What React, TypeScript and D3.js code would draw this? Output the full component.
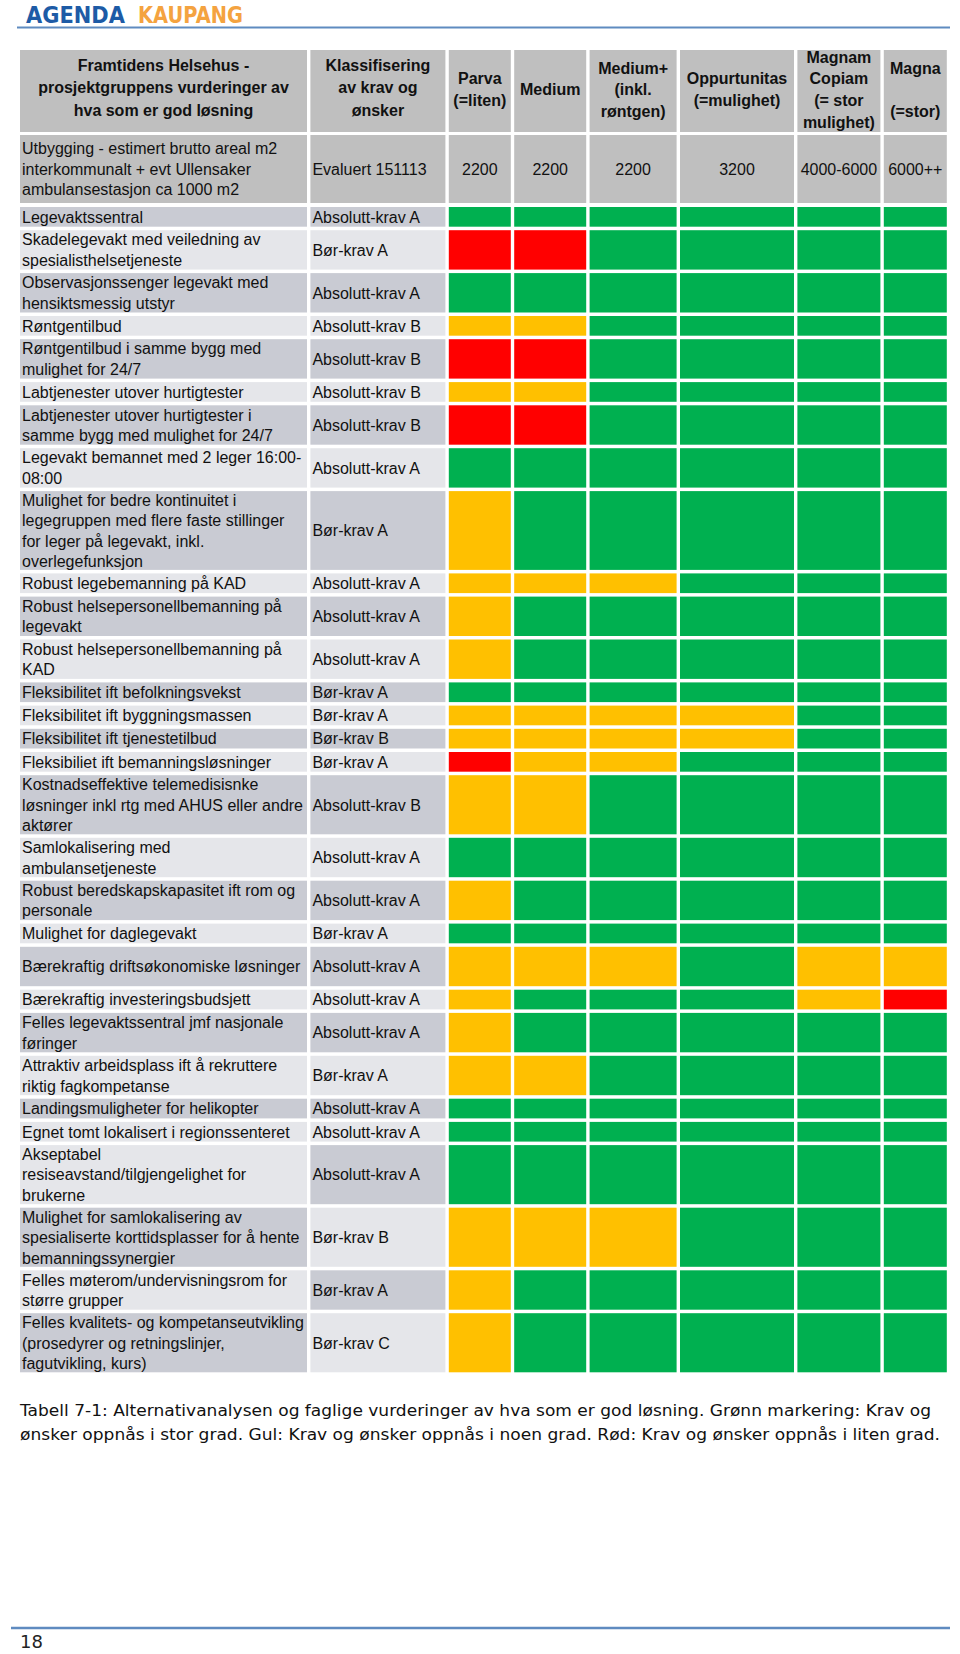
import React from "react";
import * as d3 from "d3";

// ---------- DATA ----------
const alternatives = ["Parva", "Medium", "Medium+", "Oppurtunitas", "Magnam Copiam", "Magna"];

const headerCriteria = ["Framtidens Helsehus -", "prosjektgruppens vurderinger av", "hva som er god løsning"];
const headerClass = ["Klassifisering", "av krav og", "ønsker"];
const headerAlternatives: string[][] = [
  ["Parva", "(=liten)"],
  ["Medium"],
  ["Medium+", "(inkl.", "røntgen)"],
  ["Oppurtunitas", "(=mulighet)"],
  ["Magnam", "Copiam", "(= stor", "mulighet)"],
  ["Magna", "", "(=stor)"],
];

const areaLabel = ["Utbygging - estimert brutto areal m2", "interkommunalt + evt Ullensaker", "ambulansestasjon ca 1000 m2"];
const areaClass = "Evaluert 151113";
const areaValues = ["2200", "2200", "2200", "3200", "4000-6000", "6000++"];

const criteria: string[][] = [
  ["Legevaktssentral"],
  ["Skadelegevakt med veiledning av", "spesialisthelsetjeneste"],
  ["Observasjonssenger legevakt med", "hensiktsmessig utstyr"],
  ["Røntgentilbud"],
  ["Røntgentilbud i samme bygg med", "mulighet for 24/7"],
  ["Labtjenester utover hurtigtester"],
  ["Labtjenester utover hurtigtester i", "samme bygg med mulighet for 24/7"],
  ["Legevakt bemannet med 2 leger 16:00-", "08:00"],
  ["Mulighet for bedre kontinuitet i", "legegruppen med flere faste stillinger", "for leger på legevakt, inkl.", "overlegefunksjon"],
  ["Robust legebemanning på KAD"],
  ["Robust helsepersonellbemanning på", "legevakt"],
  ["Robust helsepersonellbemanning på", "KAD"],
  ["Fleksibilitet ift befolkningsvekst"],
  ["Fleksibilitet ift byggningsmassen"],
  ["Fleksibilitet ift tjenestetilbud"],
  ["Fleksibiliet ift bemanningsløsninger"],
  ["Kostnadseffektive telemedisisnke", "løsninger inkl rtg med AHUS eller andre", "aktører"],
  ["Samlokalisering med", "ambulansetjeneste"],
  ["Robust beredskapskapasitet ift rom og", "personale"],
  ["Mulighet for daglegevakt"],
  ["Bærekraftig driftsøkonomiske løsninger"],
  ["Bærekraftig investeringsbudsjett"],
  ["Felles legevaktssentral jmf nasjonale", "føringer"],
  ["Attraktiv arbeidsplass ift å rekruttere", "riktig fagkompetanse"],
  ["Landingsmuligheter for helikopter"],
  ["Egnet tomt lokalisert i regionssenteret"],
  ["Akseptabel", "resiseavstand/tilgjengelighet for", "brukerne"],
  ["Mulighet for samlokalisering av", "spesialiserte korttidsplasser for å hente", "bemanningssynergier"],
  ["Felles møterom/undervisningsrom for", "større grupper"],
  ["Felles kvalitets- og kompetanseutvikling", "(prosedyrer og retningslinjer,", "fagutvikling, kurs)"],
];

const classification = [
  "Absolutt-krav A", "Bør-krav A", "Absolutt-krav A", "Absolutt-krav B", "Absolutt-krav B",
  "Absolutt-krav B", "Absolutt-krav B", "Absolutt-krav A", "Bør-krav A", "Absolutt-krav A",
  "Absolutt-krav A", "Absolutt-krav A", "Bør-krav A", "Bør-krav A", "Bør-krav B",
  "Bør-krav A", "Absolutt-krav B", "Absolutt-krav A", "Absolutt-krav A", "Bør-krav A",
  "Absolutt-krav A", "Absolutt-krav A", "Absolutt-krav A", "Bør-krav A", "Absolutt-krav A",
  "Absolutt-krav A", "Absolutt-krav A", "Bør-krav B", "Bør-krav A", "Bør-krav C",
];

// G = stor grad, Y = noen grad, R = liten grad
const ratings: string[][] = [
  ["G", "G", "G", "G", "G", "G"],
  ["R", "R", "G", "G", "G", "G"],
  ["G", "G", "G", "G", "G", "G"],
  ["Y", "Y", "G", "G", "G", "G"],
  ["R", "R", "G", "G", "G", "G"],
  ["Y", "Y", "G", "G", "G", "G"],
  ["R", "R", "G", "G", "G", "G"],
  ["G", "G", "G", "G", "G", "G"],
  ["Y", "G", "G", "G", "G", "G"],
  ["Y", "Y", "Y", "G", "G", "G"],
  ["Y", "G", "G", "G", "G", "G"],
  ["Y", "G", "G", "G", "G", "G"],
  ["G", "G", "G", "G", "G", "G"],
  ["Y", "Y", "Y", "Y", "G", "G"],
  ["Y", "Y", "Y", "Y", "G", "G"],
  ["R", "Y", "Y", "G", "G", "G"],
  ["Y", "Y", "G", "G", "G", "G"],
  ["G", "G", "G", "G", "G", "G"],
  ["Y", "G", "G", "G", "G", "G"],
  ["G", "G", "G", "G", "G", "G"],
  ["Y", "Y", "Y", "G", "Y", "Y"],
  ["Y", "G", "G", "G", "Y", "R"],
  ["Y", "G", "G", "G", "G", "G"],
  ["Y", "Y", "G", "G", "G", "G"],
  ["G", "G", "G", "G", "G", "G"],
  ["G", "G", "G", "G", "G", "G"],
  ["G", "G", "G", "G", "G", "G"],
  ["Y", "Y", "Y", "G", "G", "G"],
  ["Y", "G", "G", "G", "G", "G"],
  ["Y", "G", "G", "G", "G", "G"],
];

const captionLines = [
  "Tabell 7-1: Alternativanalysen og faglige vurderinger av hva som er god løsning. Grønn markering: Krav og",
  "ønsker oppnås i stor grad. Gul: Krav og ønsker oppnås i noen grad. Rød: Krav og ønsker oppnås i liten grad.",
];
const pageNumber = "18";

// ---------- LAYOUT ----------
const W = 960;
const H = 1654;
const FONT = "'Liberation Sans', Arial, Helvetica, sans-serif";
const colWidths = [287, 135, 62, 72, 87, 114, 83, 63];
const colGap = 3.4;
const tableX = 20;
const headerTop = 50;
const headerH = 82;
const areaTop = 135;
const areaH = 68;
const rowsTop = 207;
const unitH = 19.7;
const rowGap = 3.5;
const tallRows = new Set([20]);
const lineStep = 20.5;

const colorScale = d3
  .scaleOrdinal<string, string>()
  .domain(["G", "Y", "R"])
  .range(["#00B050", "#FFC000", "#FF0000"]);

export default function App() {
  const colX: number[] = [];
  let acc = tableX;
  colWidths.forEach((w) => {
    colX.push(acc);
    acc += w + colGap;
  });

  const units = criteria.map((l, i) => Math.max(l.length, tallRows.has(i) ? 2 : 1));
  const cum = [0, ...Array.from(d3.cumsum(units))];
  const y = d3
    .scaleLinear()
    .domain([0, 1])
    .range([rowsTop, rowsTop + unitH]);
  const rowTop = (i: number) => y(cum[i]) + i * rowGap;
  const rowHeight = (i: number) => units[i] * unitH;

  const dark = "#C9CBD3";
  const light = "#E5E6EA";
  const headGray = "#BFBFBF";

  const headerCenter = headerTop + 39.5;
  const hStep = 21.7;

  const multiline = (lines: string[], cx: number, cy: number, step: number, anchor: string, weight: string, size: number, keyp: string) =>
    lines.map((t, k) => (
      <text
        key={keyp + k}
        x={cx}
        y={cy + (k - (lines.length - 1) / 2) * step}
        dy="0.36em"
        textAnchor={anchor as any}
        fontFamily={FONT}
        fontWeight={weight}
        fontSize={size}
        fill="#111"
      >
        {t}
      </text>
    ));

  return (
    <svg width={W} height={H} style={{ position: "absolute", left: 0, top: 0, background: "#fff" }}>
      <rect x={0} y={0} width={W} height={H} fill="#fff" />
      {/* Logo */}
      <text x={26} y={22.5} fontFamily="'DejaVu Sans', sans-serif" fontWeight="bold" fontSize={23} fill="#1D5BA6" textLength={99} lengthAdjust="spacingAndGlyphs">
        AGENDA
      </text>
      <text x={138} y={22.5} fontFamily="'DejaVu Sans', sans-serif" fontWeight="bold" fontSize={23} fill="#F4A340" textLength={105} lengthAdjust="spacingAndGlyphs">
        KAUPANG
      </text>
      <line x1={17} x2={950} y1={27.5} y2={27.5} stroke="#5F8BC0" strokeWidth={2} />

      {/* Header */}
      {colWidths.map((w, c) => (
        <rect key={"h" + c} x={colX[c]} y={headerTop} width={w} height={headerH} fill={headGray} />
      ))}
      {multiline(headerCriteria, colX[0] + colWidths[0] / 2, headerCenter - 2, 22.5, "middle", "bold", 16, "hc")}
      {multiline(headerClass, colX[1] + colWidths[1] / 2, headerCenter - 2, 22.5, "middle", "bold", 16, "hk")}
      {headerAlternatives.map((lines, a) =>
        multiline(lines, colX[a + 2] + colWidths[a + 2] / 2, headerCenter, hStep, "middle", "bold", 16, "ha" + a)
      )}

      {/* Area row */}
      {colWidths.map((w, c) => (
        <rect key={"a" + c} x={colX[c]} y={areaTop} width={w} height={areaH} fill={headGray} />
      ))}
      {multiline(areaLabel, colX[0] + 2, areaTop + areaH / 2, lineStep, "start", "normal", 16, "al")}
      <text x={colX[1] + 2} y={areaTop + areaH / 2} dy="0.36em" fontFamily={FONT} fontSize={16} fill="#111">
        {areaClass}
      </text>
      {areaValues.map((v, a) => (
        <text
          key={"av" + a}
          x={colX[a + 2] + colWidths[a + 2] / 2}
          y={areaTop + areaH / 2}
          dy="0.36em"
          textAnchor="middle"
          fontFamily={FONT}
          fontSize={16}
          fill="#111"
        >
          {v}
        </text>
      ))}

      {/* Body rows */}
      {criteria.map((lines, i) => {
        const top = rowTop(i);
        const h = rowHeight(i);
        const cy = top + h / 2;
        const labelDark = i < 26 ? i % 2 === 0 : i % 2 === 1;
        const classDark = i % 2 === 0;
        return (
          <g key={"r" + i}>
            <rect x={colX[0]} y={top} width={colWidths[0]} height={h} fill={labelDark ? dark : light} />
            <rect x={colX[1]} y={top} width={colWidths[1]} height={h} fill={classDark ? dark : light} />
            {multiline(lines, colX[0] + 2, cy, lineStep, "start", "normal", 16, "l" + i)}
            <text x={colX[1] + 2} y={cy} dy="0.36em" fontFamily={FONT} fontSize={16} fill="#111">
              {classification[i]}
            </text>
            {ratings[i].map((r, a) => (
              <rect
                key={"c" + a}
                x={colX[a + 2]}
                y={top}
                width={colWidths[a + 2]}
                height={h}
                fill={colorScale(r)}
              />
            ))}
          </g>
        );
      })}

      {/* Caption */}
      {captionLines.map((t, k) => (
        <text
          key={"cap" + k}
          x={20}
          y={1416 + k * 24}
          fontFamily="'DejaVu Sans', Verdana, sans-serif"
          fontSize={15.5}
          fill="#111"
          textLength={k === 0 ? 911 : 920}
          lengthAdjust="spacingAndGlyphs"
        >
          {t}
        </text>
      ))}

      {/* Footer */}
      <line x1={11} x2={950} y1={1628} y2={1628} stroke="#5F8BC0" strokeWidth={2.5} />
      <text x={20} y={1648} fontFamily="'DejaVu Sans', sans-serif" fontSize={18} fill="#222">
        {pageNumber}
      </text>
    </svg>
  );
}
